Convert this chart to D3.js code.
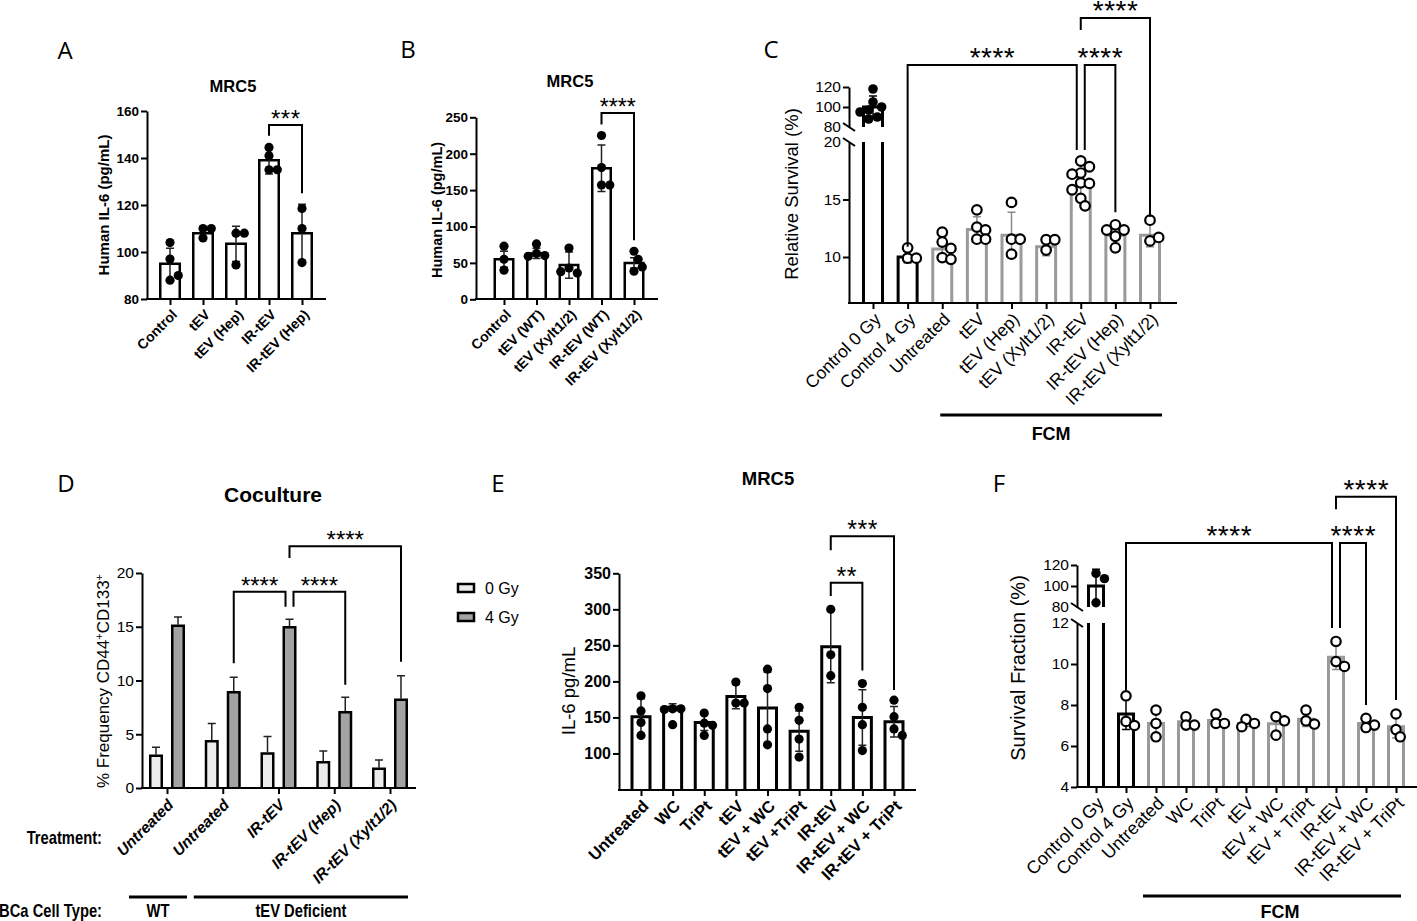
<!DOCTYPE html>
<html>
<head>
<meta charset="utf-8">
<script src="https://cdn.jsdelivr.net/npm/d3@7"></script>
<style>
  body { margin: 0; background: #fff; }
  svg { display: block; }
</style>
</head>
<body>
<svg id="fig" width="1417" height="921"></svg>
<script>
// ---------- A : MRC5 IL-6, heparinase
const aCats = ["Control", "tEV", "tEV (Hep)", "IR-tEV", "IR-tEV (Hep)"];
const aMeans = [95, 108, 103.5, 139, 108];
const aSD = [6.6, 2.5, 7.5, 5.8, 12.3];
const aPoints = [[104, 97, 88, 90], [110, 110, 106], [108, 108, 94.5], [144.5, 141, 135, 135], [118.5, 110, 95.5]];
const aTicks = [80, 100, 120, 140, 160];
const aSig = [{ from: 3, to: 4, top: 154, left: 149.5, right: 125, label: "***" }];

// ---------- B : MRC5 IL-6, Xylt1/2
const bCats = ["Control", "tEV (WT)", "tEV (Xylt1/2)", "IR-tEV (WT)", "IR-tEV (Xylt1/2)"];
const bMeans = [55, 63, 47, 180, 50];
const bSD = [11, 7, 18, 32, 7];
const bPoints = [[73, 55, 40], [76, 63, 60, 59], [70.5, 43, 36, 38], [225, 181, 157, 157], [66, 55, 38.5, 44.5]];
const bTicks = [0, 50, 100, 150, 200, 250];
const bSig = [{ from: 3, to: 4, top: 256, left: 240, right: 81, label: "****" }];

// ---------- C : relative survival (broken axis)
const cCats = ["Control 0 Gy", "Control 4 Gy", "Untreated", "tEV", "tEV (Hep)", "tEV (Xylt1/2)", "IR-tEV", "IR-tEV (Hep)", "IR-tEV (Xylt1/2)"];
const cMeans = [100, 10.0, 10.7, 12.4, 11.9, 10.9, 16.2, 11.9, 11.9];
const cSD = [11, 0.5, 1.0, 1.1, 2.0, 0.8, 1.2, 0.7, 1.0];
const cPoints = [
  [118, 105, 100, 97, 95, 90, 88],
  [10.8, 9.9, 9.9],
  [12.15, 11.3, 10.75, 9.95, 9.8],
  [14.1, 12.6, 12.35, 11.55, 11.55],
  [14.75, 11.55, 11.55, 10.25],
  [11.5, 11.5, 10.6],
  [18.35, 17.85, 17.3, 17.2, 16.45, 16.4, 15.85, 15.1, 14.45],
  [12.8, 12.35, 12.35, 11.8, 10.8],
  [13.2, 11.4, 11.7]
];
const cTicksLow = [10, 15, 20];
const cTicksHigh = [80, 100, 120];
const cSig = [
  { from: 1, to: 6, top: 142, left: 10.9, right: 19.3, label: "****" },
  { from: 6, to: 7, top: 142, left: 19.3, right: 13.9, label: "****" },
  { from: 6, to: 8, top: 189, left: 177, right: 13.5, label: "****" }
];

// ---------- D : coculture, CD44+CD133+
const dCats = ["Untreated", "Untreated", "IR-tEV", "IR-tEV (Hep)", "IR-tEV (Xylt1/2)"];
const dSeries = ["0 Gy", "4 Gy"];
const d0Means = [3.0, 4.35, 3.2, 2.4, 1.8];
const d0SD = [0.8, 1.65, 1.6, 1.05, 0.8];
const d4Means = [15.1, 8.9, 14.95, 7.05, 8.2];
const d4SD = [0.8, 1.4, 0.75, 1.4, 2.25];
const dTicks = [0, 5, 10, 15, 20];
const dSig = [
  { from: 1, to: 2, top: 18.25, left: 11.6, right: 16.85, label: "****" },
  { from: 2, to: 3, top: 18.25, left: 16.85, right: 9.6, label: "****" },
  { from: 2, to: 4, top: 22.5, left: 21.4, right: 11.75, label: "****" }
];
const dCellTypes = [{ name: "WT", from: 0, to: 0 }, { name: "tEV Deficient", from: 1, to: 4 }];

// ---------- E : MRC5 IL-6, inhibitors
const eCats = ["Untreated", "WC", "TriPt", "tEV", "tEV + WC", "tEV +TriPt", "IR-tEV", "IR-tEV + WC", "IR-tEV + TriPt"];
const eMeans = [151, 164, 143, 179, 163, 131, 248, 150, 144];
const eSD = [25, 5, 11, 17, 50, 28, 50, 38.5, 21];
const ePoints = [[180, 159, 143, 125], [162, 162, 161, 140], [156, 142, 139, 125], [199, 170, 170], [217, 190, 134, 112],
  [164, 146, 120, 95], [300, 237, 208], [197, 164, 140, 104], [174, 151, 134, 125]];
const eTicks = [100, 150, 200, 250, 300, 350];
const eSig = [
  { from: 6, to: 7, top: 337, left: 318.5, right: 215, label: "**" },
  { from: 6, to: 8, top: 401.5, left: 382, right: 188, label: "***" }
];

// ---------- F : survival fraction (broken axis)
const fCats = ["Control 0 Gy", "Control 4 Gy", "Untreated", "WC", "TriPt", "tEV", "tEV + WC", "tEV + TriPt", "IR-tEV", "IR-tEV + WC", "IR-tEV + TriPt"];
const fMeans = [100, 7.56, 7.1, 7.18, 7.25, 7.1, 7.08, 7.3, 10.33, 7.1, 6.94];
const fSD = [16, 0.75, 0.6, 0.25, 0.3, 0.15, 0.45, 0.35, 0.6, 0.25, 0.55];
const fPoints = [
  [112, 107, 84], [8.45, 7.2, 7.0], [7.75, 7.1, 6.45], [7.43, 7.02, 7.02], [7.56, 7.1, 7.1], [7.3, 7.1, 6.94],
  [7.43, 7.23, 6.53], [7.75, 7.23, 7.07], [11.1, 10.12, 9.88], [7.35, 7.02, 6.9], [7.56, 6.8, 6.45]
];
const fTicksLow = [4, 6, 8, 10, 12];
const fTicksHigh = [80, 100, 120];
const fSig = [
  { from: 1, to: 8, top: 141, left: 8.73, right: 11.76, label: "****" },
  { from: 8, to: 9, top: 141, left: 11.76, right: 8.0, label: "****" },
  { from: 8, to: 10, top: 185, left: 173, right: 8.24, label: "****" }
];

const FONT = '"Liberation Sans", Arial, Helvetica, sans-serif';
const GRAY = "#9a9a9a";
const svg = d3.select("#fig").attr("font-family", FONT);

function drawYAxis(g, scale, x, ticks, fs, fw, hideTick) {
  const ax = g.append("g").attr("transform", `translate(${x},0)`)
    .call(d3.axisLeft(scale).tickValues(ticks).tickSize(6).tickSizeOuter(0).tickPadding(2));
  ax.attr("font-family", FONT).attr("font-size", fs).attr("font-weight", fw);
  ax.select(".domain").attr("stroke", "#000").attr("stroke-width", 2);
  ax.selectAll(".tick line").attr("stroke", "#000").attr("stroke-width", 2);
  ax.selectAll(".tick text").attr("fill", "#000");
  if (hideTick !== undefined) ax.selectAll(".tick").filter(d => d === hideTick).select("line").remove();
}

function drawXAxis(g, x, cats, axisY, x0, x1, fs, fw, italic, off) {
  const ax = g.append("g").attr("transform", `translate(0,${axisY})`)
    .call(d3.axisBottom(x).tickSize(6).tickSizeOuter(0).tickFormat(i => cats[i]));
  ax.attr("font-family", FONT).attr("font-size", fs).attr("font-weight", fw)
    .attr("font-style", italic ? "italic" : "normal");
  ax.select(".domain").remove();
  ax.selectAll(".tick line").attr("stroke", "#000").attr("stroke-width", 2);
  ax.selectAll(".tick text").attr("fill", "#000").attr("x", 0).attr("y", 0).attr("dy", "0.35em")
    .attr("text-anchor", "end").attr("transform", `translate(${off[0]},${off[1]}) rotate(-45)`);
  g.append("line").attr("x1", x0).attr("x2", x1).attr("y1", axisY).attr("y2", axisY)
    .attr("stroke", "#000").attr("stroke-width", 2).attr("stroke-linecap", "square");
}

// spread points that would overlap, like a small beeswarm
function swarm(vals, yOf, r) {
  const placed = [];
  return vals.map(v => {
    const y = yOf(v);
    let dx = 0;
    for (let k = 0; k < 16; k++) {
      const c = k === 0 ? 0 : (k % 2 ? 1 : -1) * Math.ceil(k / 2) * r * 0.9;
      if (placed.every(p => Math.hypot(p[0] - c, p[1] - y) >= r * 1.75)) { dx = c; break; }
    }
    placed.push([dx, y]);
    return [dx, y];
  });
}

function drawSig(g, sigs, xOf, yOf, fs, ls) {
  sigs.forEach(s => { s.n1 = 0; s.n2 = 0; });
  sigs.forEach(a => sigs.forEach(b => {
    if (a !== b && a.top === b.top && a.to === b.from) { a.n2 = -4; b.n1 = 4; }
  }));
  sigs.forEach(s => {
    const x1 = xOf(s.from) + s.n1, x2 = xOf(s.to) + s.n2, yt = yOf(s.top);
    g.append("path").attr("d", `M${x1},${yOf(s.left)}V${yt}H${x2}V${yOf(s.right)}`)
      .attr("fill", "none").attr("stroke", "#000").attr("stroke-width", 2);
    g.append("text").attr("x", (x1 + x2) / 2 + ls / 2).attr("y", yt + 2).attr("text-anchor", "middle")
      .attr("font-size", fs).attr("letter-spacing", ls).text(s.label);
  });
}

function barPath(xc, w, yTop, yBase) {
  return `M${xc - w / 2},${yBase}V${yTop}H${xc + w / 2}V${yBase}`;
}

// generic bar + scatter panel
function barPanel(o) {
  const g = svg.append("g");
  const n = o.cats.length;
  const x = d3.scalePoint().domain(d3.range(n)).range([o.xFirst, o.xLast]);
  const rows = o.cats.map((c, i) => ({ i, mean: o.means[i], sd: o.sds[i], pts: o.points[i] }));
  const w = o.bw - o.sw;

  rows.forEach(d => {
    const col = o.barColor(d.i);
    if (o.upper && d.mean >= o.upper.domain()[0]) {
      const ub = o.upper(o.upper.domain()[0]);
      g.append("path").attr("d", barPath(x(d.i), w, o.upper(d.mean), ub))
        .attr("fill", "#fff").attr("stroke", col).attr("stroke-width", o.sw);
      const lt = o.lower.range()[1];
      g.append("path").attr("d", `M${x(d.i) - w / 2},${lt}V${o.axisY}M${x(d.i) + w / 2},${lt}V${o.axisY}`)
        .attr("stroke", col).attr("stroke-width", o.sw);
    } else {
      g.append("path").attr("d", barPath(x(d.i), w, o.yOf(d.mean), o.axisY))
        .attr("fill", "#fff").attr("stroke", col).attr("stroke-width", o.sw);
    }
  });

  // error bars (mean +/- SD)
  rows.forEach(d => {
    const col = o.errColor(d.i), xc = x(d.i);
    const y1 = o.yOf(d.mean + d.sd), y2 = o.yOf(d.mean - d.sd);
    g.append("path").attr("d", `M${xc},${y1}V${y2}M${xc - 4},${y1}H${xc + 4}M${xc - 4},${y2}H${xc + 4}`)
      .attr("stroke", col).attr("stroke-width", 1.5).attr("fill", "none");
  });

  // individual points
  rows.forEach(d => {
    const filled = o.dotFilled(d.i);
    g.selectAll(null).data(swarm(d.pts, o.yOf, o.r)).join("circle")
      .attr("cx", p => x(d.i) + p[0]).attr("cy", p => p[1]).attr("r", o.r)
      .attr("fill", filled ? "#000" : "#fff").attr("stroke", "#000").attr("stroke-width", filled ? 0 : 2.2);
  });

  drawXAxis(g, x, o.cats, o.axisY, o.axisX, o.xEnd, o.labFs, o.labFw, false, o.labOff);
  drawSig(g, o.sig, i => x(i), o.yOf, o.sigFs, o.sigLs);
  return { g, x };
}

function label(t, x, y, fs, fw, anchor) {
  return svg.append("text").attr("x", x).attr("y", y).attr("font-size", fs).attr("font-weight", fw || "normal")
    .attr("text-anchor", anchor || "middle").text(t);
}
// condensed bold text (narrow face imitation)
function narrow(t, x, y, fs, anchor) {
  return svg.append("text").attr("transform", `translate(${x},${y}) scale(0.82,1)`).attr("font-size", fs)
    .attr("font-weight", "bold").attr("text-anchor", anchor || "middle").text(t);
}
function yLabel(t, x, y, fs, fw) {
  return svg.append("text").attr("transform", `translate(${x},${y}) rotate(-90)`).attr("text-anchor", "middle")
    .attr("dy", "0.35em").attr("font-size", fs).attr("font-weight", fw).text(t);
}
function panelLetter(t, x, y) {
  svg.append("text").attr("x", x).attr("y", y).attr("font-family", '"Open Sans", "Noto Sans", sans-serif')
    .attr("font-size", 24).attr("text-anchor", "middle").text(t);
}
function slash(x, y) {
  svg.append("line").attr("x1", x - 6).attr("y1", y - 4).attr("x2", x + 6).attr("y2", y + 4)
    .attr("stroke", "#000").attr("stroke-width", 2);
}

// ================= Panel A
{
  const y = d3.scaleLinear().domain([80, 160]).range([299, 111]);
  const p = barPanel({
    cats: aCats, means: aMeans, sds: aSD, points: aPoints, xFirst: 170, xLast: 302, axisX: 147, axisY: 299, xEnd: 325,
    yOf: y, bw: 22, sw: 2.5, barColor: () => "#000", errColor: () => "#222", dotFilled: () => true, r: 4.6,
    labFs: 14, labFw: "bold", labOff: [4, 13], sig: aSig, sigFs: 24, sigLs: 0.5
  });
  drawYAxis(p.g, y, 147, aTicks, 13.5, "bold");
  label("MRC5", 233, 92, 16.5, "bold");
  yLabel("Human IL-6 (pg/mL)", 104, 205, 15, "bold");
  panelLetter("A", 65, 59);
}

// ================= Panel B
{
  const y = d3.scaleLinear().domain([0, 250]).range([299.3, 117.3]);
  const p = barPanel({
    cats: bCats, means: bMeans, sds: bSD, points: bPoints, xFirst: 504, xLast: 634, axisX: 476, axisY: 299, xEnd: 657,
    yOf: y, bw: 21, sw: 2.5, barColor: () => "#000", errColor: () => "#222", dotFilled: () => true, r: 4.6,
    labFs: 14, labFw: "bold", labOff: [4, 13], sig: bSig, sigFs: 23, sigLs: 0
  });
  drawYAxis(p.g, y, 476, bTicks, 13.5, "bold");
  label("MRC5", 570, 87, 16.5, "bold");
  yLabel("Human IL-6 (pg/mL)", 437, 210, 14.5, "bold");
  panelLetter("B", 408, 58);
}

// ================= Panel C
{
  const lower = d3.scaleLinear().domain([6, 20]).range([303, 142]);
  const upper = d3.scaleLinear().domain([80, 120]).range([127, 87]);
  const yOf = v => v >= 50 ? upper(v) : lower(v);
  const p = barPanel({
    cats: cCats, means: cMeans, sds: cSD, points: cPoints, xFirst: 873, xLast: 1150, axisX: 849, axisY: 303, xEnd: 1176,
    yOf, upper, lower, bw: 22, sw: 3, barColor: i => i < 2 ? "#000" : GRAY, errColor: i => i < 2 ? "#000" : "#8a8a8a",
    dotFilled: i => i === 0, r: 4.8, labFs: 17.5, labFw: "normal", labOff: [4, 13], sig: cSig, sigFs: 28, sigLs: 0.5
  });
  drawYAxis(p.g, upper, 849, cTicksHigh, 15.5, "normal", 80);
  drawYAxis(p.g, lower, 849, cTicksLow, 15.5, "normal", 20);
  slash(849, upper(80));
  slash(849, lower(20));
  yLabel("Relative Survival (%)", 792, 194, 18.5, "normal");
  svg.append("line").attr("x1", p.x(2) - 2).attr("x2", p.x(8) + 12).attr("y1", 415).attr("y2", 415)
    .attr("stroke", "#000").attr("stroke-width", 3);
  label("FCM", (p.x(2) + p.x(8)) / 2 + 5, 440, 18, "bold");
  panelLetter("C", 771, 58);
}

// ================= Panel D
{
  const y = d3.scaleLinear().domain([0, 20]).range([788, 573]);
  const x = d3.scalePoint().domain(d3.range(dCats.length)).range([167, 390]);
  const g = svg.append("g");
  const off = 11, w = 14 - 2.5;
  const series = [
    { means: d0Means, sd: d0SD, dx: -off, fill: "#ececec" },
    { means: d4Means, sd: d4SD, dx: off, fill: "#a3a3a3" }
  ];
  series.forEach(s => {
    s.means.forEach((m, i) => {
      const xc = x(i) + s.dx;
      g.append("path").attr("d", barPath(xc, w, y(m), 788)).attr("fill", s.fill)
        .attr("stroke", "#000").attr("stroke-width", 2.5);
      const yt = y(m + s.sd[i]);
      g.append("path").attr("d", `M${xc},${y(m) - 1}V${yt}M${xc - 4},${yt}H${xc + 4}`)
        .attr("stroke", "#222").attr("stroke-width", 1.5);
    });
  });
  drawXAxis(g, x, dCats, 788, 142, 415, 15.5, "bold", true, [3, 14]);
  drawYAxis(g, y, 142, dTicks, 15.5, "normal");
  drawSig(g, dSig, i => x(i) + off, y, 24, 0);

  // legend
  const lg = svg.append("g").attr("transform", "translate(457,583)");
  dSeries.forEach((s, i) => {
    lg.append("rect").attr("x", 1).attr("y", i * 29 + 1).attr("width", 16).attr("height", 8)
      .attr("fill", series[i].fill).attr("stroke", "#000").attr("stroke-width", 2.5);
    lg.append("text").attr("x", 28).attr("y", i * 29 + 5).attr("dy", "0.35em").attr("font-size", 16).text(s);
  });

  label("Coculture", 273, 502, 21, "bold");
  const yl = svg.append("text").attr("transform", "translate(103,681) rotate(-90)").attr("text-anchor", "middle")
    .attr("dy", "0.35em").attr("font-size", 17);
  yl.append("tspan").text("% Frequency CD44");
  yl.append("tspan").attr("font-size", 11).attr("baseline-shift", "super").text("+");
  yl.append("tspan").text("CD133");
  yl.append("tspan").attr("font-size", 11).attr("baseline-shift", "super").text("+");

  narrow("Treatment:", 102, 844, 18, "end");
  narrow("BCa Cell Type:", 102, 917, 18, "end");
  dCellTypes.forEach(c => {
    const x0 = x(c.from) - 38 + (c.from > 0 ? 9 : 0), x1 = x(c.to) + 20 + (c.to === 4 ? -2 : 0);
    svg.append("line").attr("x1", x0).attr("x2", x1).attr("y1", 897).attr("y2", 897)
      .attr("stroke", "#000").attr("stroke-width", 3);
    narrow(c.name, (x0 + x1) / 2, 917, 18);
  });
  panelLetter("D", 66, 492);
}

// ================= Panel E
{
  const y = d3.scaleLinear().domain([50, 350]).range([789.5, 573.3]);
  const p = barPanel({
    cats: eCats, means: eMeans, sds: eSD, points: ePoints, xFirst: 641, xLast: 894, axisX: 619, axisY: 790, xEnd: 915,
    yOf: y, bw: 21, sw: 3, barColor: () => "#000", errColor: () => "#222", dotFilled: () => true, r: 4.6,
    labFs: 16.5, labFw: "bold", labOff: [4, 13], sig: eSig, sigFs: 25, sigLs: 0.5
  });
  drawYAxis(p.g, y, 619, eTicks, 16, "bold");
  label("MRC5", 768, 485, 18.5, "bold");
  yLabel("IL-6 pg/mL", 569, 691, 18.5, "normal");
  panelLetter("E", 498, 492);
}

// ================= Panel F
{
  const lower = d3.scaleLinear().domain([4, 12]).range([787, 623]);
  const upper = d3.scaleLinear().domain([80, 120]).range([607, 565]);
  const yOf = v => v >= 50 ? upper(v) : lower(v);
  const p = barPanel({
    cats: fCats, means: fMeans, sds: fSD, points: fPoints, xFirst: 1096, xLast: 1396, axisX: 1077, axisY: 787, xEnd: 1417,
    yOf, upper, lower, bw: 18, sw: 3, barColor: i => i < 2 ? "#000" : GRAY, errColor: i => i < 2 ? "#000" : "#8a8a8a",
    dotFilled: i => i === 0, r: 4.7, labFs: 18, labFw: "normal", labOff: [4, 13], sig: fSig, sigFs: 28, sigLs: 0.5
  });
  drawYAxis(p.g, upper, 1077, fTicksHigh, 15.5, "normal", 80);
  drawYAxis(p.g, lower, 1077, fTicksLow, 15.5, "normal", 12);
  slash(1077, upper(80));
  slash(1077, lower(12));
  yLabel("Survival Fraction (%)", 1018, 668, 20, "normal");
  svg.append("line").attr("x1", p.x(2) - 13).attr("x2", p.x(10) + 5).attr("y1", 896).attr("y2", 896)
    .attr("stroke", "#000").attr("stroke-width", 3);
  label("FCM", 1280, 918, 18, "bold");
  panelLetter("F", 999, 492);
}
</script>
</body>
</html>
